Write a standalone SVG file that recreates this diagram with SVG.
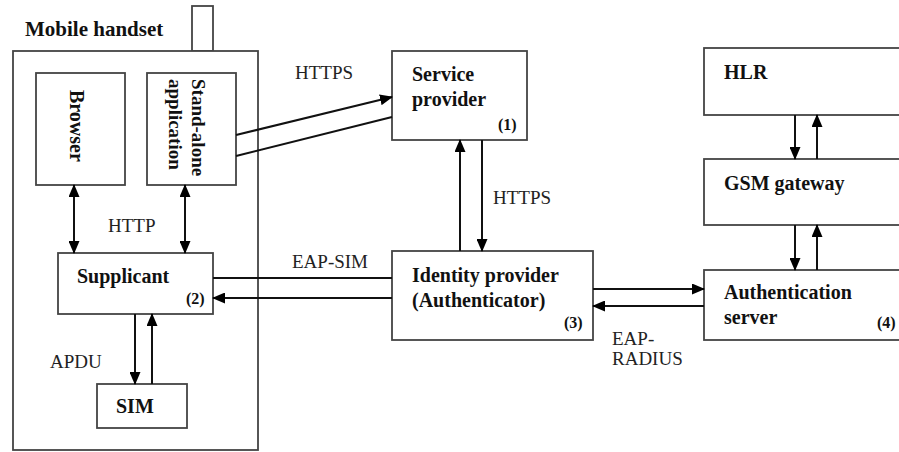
<svg xmlns="http://www.w3.org/2000/svg" width="899" height="452" viewBox="0 0 899 452" font-family="Liberation Serif, DejaVu Serif, serif">
<style>
.box{fill:#fff;stroke:#444;stroke-width:1.8}
.lbl{font-family:'Liberation Serif','DejaVu Serif',serif;font-size:20px;font-weight:bold;fill:#111}
.edge{font-family:'Liberation Serif','DejaVu Serif',serif;font-size:19px;fill:#222}
.num{font-family:'Liberation Serif','DejaVu Serif',serif;font-size:16px;font-weight:bold;fill:#111}
.ln{stroke:#111;stroke-width:2;fill:none}
</style>
<defs>
<marker id="ah" markerUnits="userSpaceOnUse" markerWidth="13" markerHeight="11" viewBox="0 0 13 11" refX="12" refY="5.5" orient="auto-start-reverse">
<path d="M0,0 L13,5.5 L0,11 z" fill="#000"/>
</marker>
</defs>
<rect width="899" height="452" fill="#fff"/>

<g id="handset">
<rect class="box" x="192" y="6" width="21" height="45"/>
<rect class="box" x="13" y="51" width="245" height="399"/>
<text class="lbl" style="font-size:21px" x="25" y="36">Mobile handset</text>
</g>
<g id="browser">
<rect class="box" x="36" y="73" width="89" height="112"/>
<text class="lbl" transform="translate(70,90) rotate(90)">Browser</text>
</g>
<g id="standalone">
<rect class="box" x="147" y="73" width="89" height="112"/>
<text class="lbl" style="font-size:19px" transform="translate(192,79) rotate(90)">Stand-alone</text>
<text class="lbl" style="font-size:19px" transform="translate(169,79) rotate(90)">application</text>
</g>
<g id="supplicant">
<rect class="box" x="58" y="253" width="155" height="61"/>
<text class="lbl" x="77" y="283">Supplicant</text>
<text class="num" x="186" y="304">(2)</text>
</g>
<g id="sim">
<rect class="box" x="97" y="384" width="90" height="44"/>
<text class="lbl" x="116" y="413">SIM</text>
</g>
<g id="service-provider">
<rect class="box" x="392" y="51" width="135" height="89"/>
<text class="lbl" x="412" y="81">Service</text>
<text class="lbl" x="412" y="106">provider</text>
<text class="num" x="498" y="130">(1)</text>
</g>
<g id="identity-provider">
<rect class="box" x="392" y="251" width="201" height="89"/>
<text class="lbl" x="412" y="282">Identity provider</text>
<text class="lbl" x="412" y="307">(Authenticator)</text>
<text class="num" x="564" y="328">(3)</text>
</g>
<g id="hlr">
<rect class="box" x="704" y="48" width="205" height="67"/>
<text class="lbl" x="724" y="79">HLR</text>
</g>
<g id="gsm-gateway">
<rect class="box" x="704" y="159" width="205" height="66"/>
<text class="lbl" x="724" y="190">GSM gateway</text>
</g>
<g id="auth-server">
<rect class="box" x="704" y="270" width="205" height="70"/>
<text class="lbl" x="724" y="299">Authentication</text>
<text class="lbl" x="724" y="324">server</text>
<text class="num" x="877" y="328">(4)</text>
</g>

<g id="connectors">
<line class="ln" x1="74" y1="185" x2="74" y2="253" marker-start="url(#ah)" marker-end="url(#ah)"/>
<line class="ln" x1="185" y1="185" x2="185" y2="253" marker-start="url(#ah)" marker-end="url(#ah)"/>
<line class="ln" x1="236" y1="135" x2="392" y2="97" marker-end="url(#ah)"/>
<line class="ln" x1="236" y1="156" x2="392" y2="117"/>
<line class="ln" x1="460" y1="251" x2="460" y2="140" marker-end="url(#ah)"/>
<line class="ln" x1="482" y1="140" x2="482" y2="251" marker-end="url(#ah)"/>
<line class="ln" x1="213" y1="278" x2="392" y2="278"/>
<line class="ln" x1="392" y1="298" x2="213" y2="298" marker-end="url(#ah)"/>
<line class="ln" x1="593" y1="289" x2="704" y2="289" marker-end="url(#ah)"/>
<line class="ln" x1="704" y1="306" x2="593" y2="306" marker-end="url(#ah)"/>
<line class="ln" x1="135" y1="314" x2="135" y2="384" marker-end="url(#ah)"/>
<line class="ln" x1="152" y1="384" x2="152" y2="314" marker-end="url(#ah)"/>
<line class="ln" x1="795" y1="115" x2="795" y2="159" marker-end="url(#ah)"/>
<line class="ln" x1="817" y1="159" x2="817" y2="115" marker-end="url(#ah)"/>
<line class="ln" x1="795" y1="225" x2="795" y2="270" marker-end="url(#ah)"/>
<line class="ln" x1="817" y1="270" x2="817" y2="225" marker-end="url(#ah)"/>
<text class="edge" x="108" y="232">HTTP</text>
<text class="edge" x="295" y="79">HTTPS</text>
<text class="edge" x="493" y="204">HTTPS</text>
<text class="edge" x="292" y="268">EAP-SIM</text>
<text class="edge" x="612" y="345">EAP-</text>
<text class="edge" x="612" y="365">RADIUS</text>
<text class="edge" x="50" y="368">APDU</text>
</g>
</svg>
